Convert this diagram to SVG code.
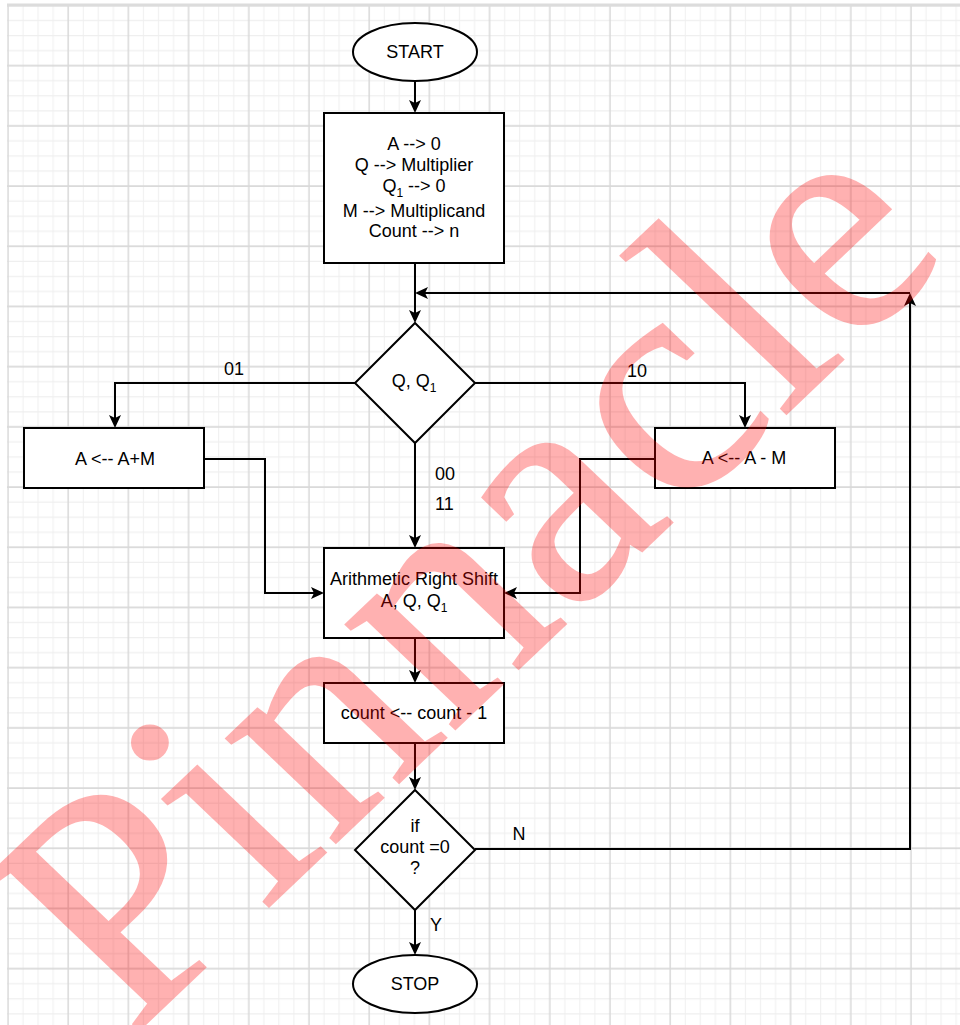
<svg xmlns="http://www.w3.org/2000/svg" width="960" height="1025" viewBox="0 0 960 1025">
<style>
.shape{fill:#fff;stroke:#000;stroke-width:2}
.t{font-family:"Liberation Sans",Arial,sans-serif;font-size:18px;fill:#000;text-anchor:middle}
.lbl{font-family:"Liberation Sans",Arial,sans-serif;font-size:18px;fill:#000}
.sub{font-size:12px}
.edge{fill:none;stroke:#000;stroke-width:2;marker-end:url(#arr)}
</style>
<defs>
<pattern id="grid" x="-29.625" y="-32.125" width="60.2" height="60.2" patternUnits="userSpaceOnUse">
<path d="M7.525 0V60.2M22.575 0V60.2M52.675 0V60.2M0 7.525H60.2M0 22.575H60.2M0 52.675H60.2" stroke="#efefef" stroke-width="1"/>
<path d="M37.625 0V60.2M0 37.625H60.2" stroke="#d9d9d9" stroke-width="1.5"/>
</pattern>
<marker id="arr" viewBox="0 0 13 12" refX="10" refY="6" markerWidth="13" markerHeight="12" markerUnits="userSpaceOnUse" orient="auto">
<path d="M0,0 L13,6 L0,12 L3,6 Z" fill="#000"/>
</marker>
</defs>
<rect x="0" y="0" width="960" height="1025" fill="#fff"/>
<rect x="7" y="4" width="953" height="1021" fill="url(#grid)"/>
<line x1="7" y1="5" x2="960" y2="5" stroke="#dcdcdc" stroke-width="3"/>

<g id="connectors">
<path class="edge" d="M415,81 V110"/>
<path class="edge" d="M415,263 V320"/>
<path class="edge" d="M475,849 H910 V296"/>
<path class="edge" d="M910,293 H418"/>
<path class="edge" d="M355,383 H115 V425"/>
<path class="edge" d="M475,383 H745 V425"/>
<path class="edge" d="M415,443 V545"/>
<path class="edge" d="M204,459 H265 V593 H321"/>
<path class="edge" d="M655,459 H580 V593 H507"/>
<path class="edge" d="M415,638 V680"/>
<path class="edge" d="M415,743 V787"/>
<path class="edge" d="M415,910 V952"/>
<text class="t" x="234" y="375">01</text>
<text class="t" x="637" y="377">10</text>
<text class="lbl" x="435" y="480">00</text>
<text class="lbl" x="435" y="510">11</text>
<text class="t" x="519" y="840">N</text>
<text class="t" x="436" y="931">Y</text>
</g>

<g id="start">
<ellipse class="shape" cx="415" cy="52" rx="62" ry="29"/>
<text class="t" x="415" y="58">START</text>
</g>

<g id="init">
<rect class="shape" x="324" y="113" width="180" height="150"/>
<text class="t" x="414" y="150">A --&gt; 0</text>
<text class="t" x="414" y="171">Q --&gt; Multiplier</text>
<text class="t" x="414" y="192">Q<tspan class="sub" dy="5">1</tspan><tspan dy="-5"> --&gt; 0</tspan></text>
<text class="t" x="414" y="217">M --&gt; Multiplicand</text>
<text class="t" x="414" y="237">Count --&gt; n</text>
</g>

<g id="decision-q">
<polygon class="shape" points="415,323 475,383 415,443 355,383"/>
<text class="t" x="414" y="387">Q, Q<tspan class="sub" dy="5">1</tspan></text>
</g>

<g id="add">
<rect class="shape" x="24" y="428" width="180" height="60"/>
<text class="t" x="115" y="465">A &lt;-- A+M</text>
</g>

<g id="sub">
<rect class="shape" x="655" y="428" width="180" height="60"/>
<text class="t" x="744" y="464">A &lt;-- A - M</text>
</g>

<g id="shift">
<rect class="shape" x="324" y="548" width="180" height="90"/>
<text class="t" x="414" y="585">Arithmetic Right Shift</text>
<text class="t" x="414" y="607">A, Q, Q<tspan class="sub" dy="5">1</tspan></text>
</g>

<g id="count">
<rect class="shape" x="324" y="683" width="180" height="60"/>
<text class="t" x="414" y="719">count &lt;-- count - 1</text>
</g>

<g id="decision-count">
<polygon class="shape" points="415,790 475,850 415,910 355,850"/>
<text class="t" x="415" y="832">if</text>
<text class="t" x="415" y="853">count =0</text>
<text class="t" x="415" y="874">?</text>
</g>

<g id="stop">
<ellipse class="shape" cx="415" cy="984" rx="62" ry="29"/>
<text class="t" x="415" y="990">STOP</text>
</g>

<g id="watermark" opacity="0.3" transform="translate(131,1038) scale(1.05,1) rotate(-45)">
<text x="0" y="0" font-family="'Liberation Serif','Times New Roman',serif" font-size="322" fill="#ff0000" stroke="#ff0000" stroke-width="2">Pinnacle</text>
</g>
</svg>
